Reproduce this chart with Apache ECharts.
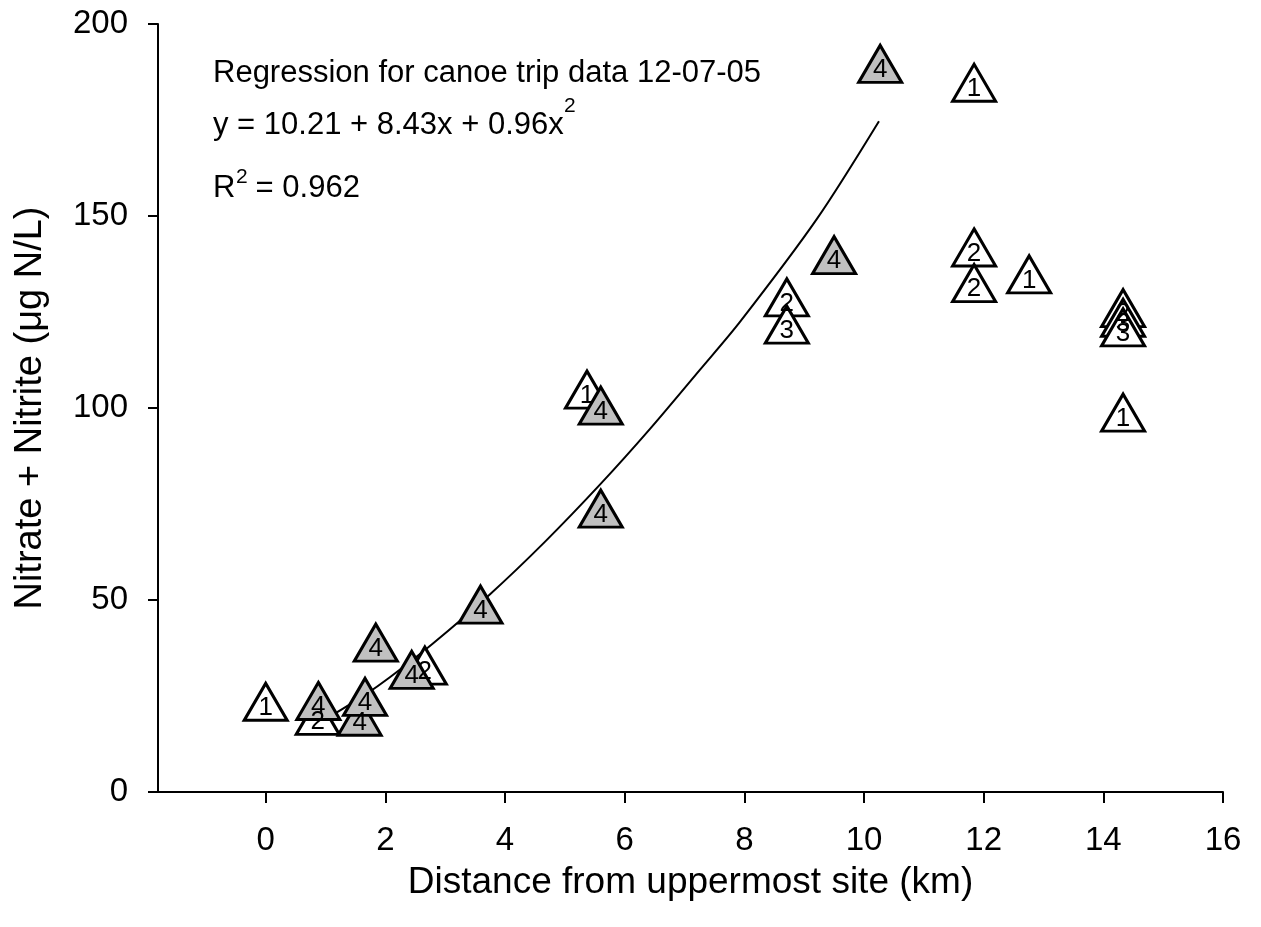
<!DOCTYPE html>
<html>
<head>
<meta charset="utf-8">
<script src="https://cdn.jsdelivr.net/npm/echarts@6/dist/echarts.min.js"></script>
<style>
  html, body { margin: 0; padding: 0; background: #fff; }
  #chart { width: 1261px; height: 927px; }
</style>
</head>
<body>
<div id="chart"></div>
<script>
// canoe trip samples, [distance km, nitrate+nitrite ug N/L]
var trip1 = [[0, 23.5], [5.37, 104.8], [11.84, 184.7], [12.76, 134.8], [14.33, 98.8]];
var trip2 = [[0.87, 19.8], [2.66, 32.9], [8.71, 128.8], [11.84, 141.8], [11.84, 132.5], [14.33, 126.0]];
var trip3 = [[8.71, 121.7], [14.33, 123.5], [14.33, 121.0]];
var trip4 = [[0.88, 23.7], [1.57, 19.6], [1.66, 24.8], [1.84, 38.9], [2.44, 31.8], [3.59, 48.8],
             [5.60, 100.6], [5.60, 73.8], [9.50, 139.8], [10.27, 189.6]];

// regression curve as drawn
var fitX = [1.1, 1.66, 2.07, 2.79, 3.75, 4.67, 5.59, 6.42, 7.26, 7.93, 9.21, 10.25];
var fitY = [19.9, 25.3, 29.8, 38.6, 51.5, 65.2, 80.1, 94.5, 110.0, 122.5, 149.2, 174.7];

var xTicks = [0, 2, 4, 6, 8, 10, 12, 14, 16];

var FONT = "'Liberation Sans', Arial, sans-serif";

var chartDom = document.getElementById('chart');
var chart = echarts.init(chartDom);

function tripSeries(name, data, fill) {
  return {
    name: name,
    type: 'scatter',
    data: data,
    symbol: 'triangle',
    symbolSize: [43, 37],
    itemStyle: {
      color: fill,
      borderColor: '#000',
      borderWidth: 3,
      opacity: 1
    },
    label: {
      show: true,
      position: 'inside',
      offset: [0, 6],
      formatter: name,
      color: '#000',
      fontFamily: FONT,
      fontSize: 26
    },
    emphasis: { disabled: true },
    z: 3
  };
}

var option = {
  animation: false,
  backgroundColor: '#fff',
  grid: {
    left: 158,
    right: 38,
    top: 24,
    bottom: 135
  },
  xAxis: {
    type: 'value',
    min: -1.8,
    max: 16,
    name: 'Distance from uppermost site (km)',
    nameLocation: 'middle',
    nameGap: 72,
    nameTextStyle: { fontFamily: FONT, fontSize: 37, color: '#000' },
    axisLine: { onZero: false, lineStyle: { color: '#000', width: 2 } },
    axisTick: { show: true, length: 11, customValues: xTicks, lineStyle: { color: '#000', width: 2 } },
    axisLabel: { customValues: xTicks, margin: 32, fontFamily: FONT, fontSize: 33, color: '#000' },
    splitLine: { show: false }
  },
  yAxis: {
    type: 'value',
    min: 0,
    max: 200,
    interval: 50,
    name: 'Nitrate + Nitrite (\u03bcg N/L)',
    nameLocation: 'middle',
    nameGap: 108,
    nameTextStyle: { fontFamily: FONT, fontSize: 38, color: '#000' },
    axisLine: { show: true, onZero: false, lineStyle: { color: '#000', width: 2 } },
    axisTick: { show: true, length: 10, lineStyle: { color: '#000', width: 2 } },
    axisLabel: { margin: 30, fontFamily: FONT, fontSize: 33, color: '#000' },
    splitLine: { show: false }
  },
  graphic: [
    { type: 'text', left: 213, top: 58, style: { text: 'Regression for canoe trip data 12-07-05', font: '31px ' + FONT, fill: '#000' } },
    { type: 'text', left: 213, top: 110, style: { text: 'y = 10.21 + 8.43x + 0.96x', font: '31px ' + FONT, fill: '#000' } },
    { type: 'text', left: 564, top: 96, style: { text: '2', font: '21px ' + FONT, fill: '#000' } },
    { type: 'text', left: 213, top: 173, style: { text: 'R', font: '31px ' + FONT, fill: '#000' } },
    { type: 'text', left: 236, top: 167, style: { text: '2', font: '21px ' + FONT, fill: '#000' } },
    { type: 'text', left: 247, top: 173, style: { text: ' = 0.962', font: '31px ' + FONT, fill: '#000' } }
  ],
  series: [
    {
      type: 'line',
      data: fitX.map(function (x, i) { return [x, fitY[i]]; }),
      smooth: 0.3,
      showSymbol: false,
      lineStyle: { color: '#000', width: 2 },
      emphasis: { disabled: true },
      z: 1
    },
    tripSeries('1', trip1, '#fff'),
    tripSeries('2', trip2, '#fff'),
    tripSeries('3', trip3, '#fff'),
    tripSeries('4', trip4, '#c0c0c0')
  ]
};

option && chart.setOption(option);
</script>
</body>
</html>
